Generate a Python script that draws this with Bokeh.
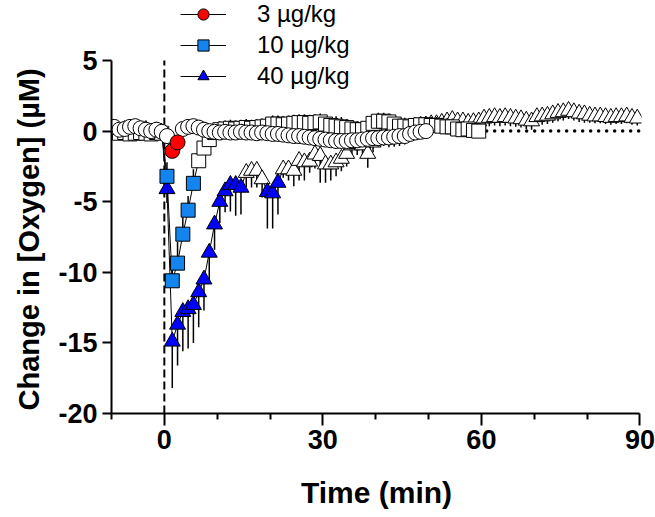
from bokeh.plotting import figure
from bokeh.models import Legend, LegendItem, FixedTicker, Range1d, Title
from bokeh.embed import file_html
from bokeh.resources import INLINE

# ---------------- data ----------------
TIME = [-9.5, -8.5, -7.5, -6.5, -5.5, -4.5, -3.5, -2.5, -1.5, -0.5,
        0.5, 1.5, 2.5, 3.5, 4.5, 5.5, 6.5, 7.5, 8.5, 9.5,
        10.5, 11.5, 12.5, 13.5, 14.5, 15.5, 16.5, 17.5, 18.5, 19.5,
        20.5, 21.5, 22.5, 23.5, 24.5, 25.5, 26.5, 27.5, 28.5, 29.5,
        30.5, 31.5, 32.5, 33.5, 34.5, 35.5, 36.5, 37.5, 38.5, 39.5,
        40.5, 41.5, 42.5, 43.5, 44.5, 45.5, 46.5, 47.5, 48.5, 49.5,
        50.5, 51.5, 52.5, 53.5, 54.5, 55.5, 56.5, 57.5, 58.5, 59.5,
        60.5, 61.5, 62.5, 63.5, 64.5, 65.5, 66.5, 67.5, 68.5, 69.5,
        70.5, 71.5, 72.5, 73.5, 74.5, 75.5, 76.5, 77.5, 78.5, 79.5,
        80.5, 81.5, 82.5, 83.5, 84.5, 85.5, 86.5, 87.5, 88.5, 89.5]

# 3 ug/kg (circles), t = -9.5 .. 49.5
DOSE3_MEAN = [0.3, 0.1, 0.15, 0.3, 0.35, 0.2, 0.1, 0.0, 0.1, -0.05,
              -0.35, -1.4, -0.8, 0.15, 0.3, 0.35, 0.25, 0.1, 0.0, -0.05,
              -0.1, -0.05, -0.1, -0.1, -0.05, -0.1, -0.1, -0.15, -0.1, -0.15,
              -0.2, -0.2, -0.25, -0.3, -0.35, -0.35, -0.4, -0.45, -0.5, -0.55,
              -0.6, -0.65, -0.7, -0.7, -0.7, -0.65, -0.65, -0.6, -0.55, -0.5,
              -0.5, -0.45, -0.45, -0.4, -0.35, -0.35, -0.2, -0.1, -0.05, 0.0]
DOSE3_SEM = [0.3, 0.3, 0.3, 0.3, 0.3, 0.3, 0.3, 0.3, 0.3, 0.3,
             0.3, 0.4, 0.4, 0.3, 0.3, 0.3, 0.3, 0.3, 0.3, 0.3,
             0.3, 0.3, 0.3, 0.3, 0.3, 0.3, 0.3, 0.3, 0.3, 0.3,
             0.3, 0.3, 0.4, 0.4, 0.4, 0.4, 0.4, 0.4, 0.4, 0.4,
             0.5, 0.5, 0.5, 0.5, 0.5, 0.5, 0.5, 0.5, 0.5, 0.5,
             0.6, 0.6, 0.7, 0.7, 0.7, 0.6, 0.5, 0.4, 0.3, 0.3]
DOSE3_SIG = [11, 12]

# 10 ug/kg (squares), t = -9.5 .. 59.5
DOSE10_MEAN = [-0.1, -0.15, -0.1, -0.2, -0.15, -0.1, -0.15, -0.2, -0.1, -0.15,
               -3.2, -10.6, -9.35, -7.3, -5.6, -3.7, -2.1, -1.2, -0.6, -0.1,
               0.1, 0.15, 0.2, 0.15, 0.2, 0.25, 0.2, 0.25, 0.3, 0.35,
               0.5, 0.5, 0.45, 0.5, 0.55, 0.6, 0.6, 0.55, 0.6, 0.65,
               0.5, 0.4, 0.35, 0.3, 0.25, 0.15, 0.1, 0.1, 0.2, 0.55,
               0.7, 0.7, 0.65, 0.5, 0.35, 0.35, 0.3, 0.4, 0.45, 0.45,
               0.4, 0.4, 0.35, 0.3, 0.3, 0.15, 0.1, 0.15, 0.05, 0.0]
DOSE10_SEM = [0.3, 0.3, 0.3, 0.3, 0.3, 0.3, 0.3, 0.3, 0.3, 0.3,
              1.0, 1.5, 1.5, 1.2, 1.0, 1.0, 0.8, 0.6, 0.5, 0.5,
              0.6, 0.6, 0.6, 0.6, 0.6, 0.6, 0.6, 0.6, 0.6, 0.6,
              0.6, 0.6, 0.6, 0.6, 0.6, 0.6, 0.6, 0.6, 0.6, 0.6,
              0.6, 0.6, 0.7, 0.7, 0.6, 0.6, 0.6, 0.6, 0.6, 0.6,
              0.6, 0.6, 0.6, 0.6, 0.6, 0.6, 0.6, 0.6, 0.6, 0.6,
              0.6, 0.6, 0.6, 0.6, 0.6, 0.5, 0.5, 0.5, 0.5, 0.5]
DOSE10_SIG = [10, 11, 12, 13, 14, 15]

# 40 ug/kg (triangles), t = -9.5 .. 89.5
DOSE40_MEAN = [0.0, -0.1, 0.1, 0.0, -0.1, 0.0, 0.1, -0.1, 0.0, -0.1,
               -4.1, -14.9, -13.7, -12.8, -12.6, -12.3, -11.4, -10.5, -8.6, -6.6,
               -5.0, -4.25, -3.8, -3.8, -4.0, -2.95, -2.8, -2.8, -3.4, -4.3,
               -4.4, -3.65, -2.7, -2.7, -2.8, -2.1, -2.2, -2.15, -1.65, -1.75,
               -2.35, -2.35, -2.2, -1.95, -1.6, -1.0, -0.9, -1.0, -1.6, -0.8,
               -0.4, -0.3, -0.2, -0.1, 0.0, 0.1, 0.2, 0.2, 0.3, 0.4,
               0.5, 0.5, 0.6, 0.7, 0.8, 0.7, 0.7, 0.6, 0.65, 0.7,
               0.9, 0.95, 1.0, 0.95, 1.0, 0.95, 0.9, 0.85, 0.75, 0.7,
               1.0, 1.05, 1.1, 1.2, 1.3, 1.35, 1.45, 1.35, 1.25, 1.2,
               1.1, 1.05, 1.05, 1.0, 0.95, 1.0, 1.0, 1.05, 0.95, 0.9]
DOSE40_SEM = [0.3, 0.3, 0.3, 0.3, 0.3, 0.3, 0.3, 0.3, 0.3, 0.3,
              1.0, 3.3, 2.9, 2.8, 2.8, 2.7, 2.5, 2.2, 2.0, 1.8,
              1.5, 1.5, 1.9, 2.2, 1.9, 1.0, 1.2, 1.2, 1.3, 2.6,
              2.5, 2.25, 0.6, 0.8, 1.1, 1.4, 1.3, 0.8, 1.0, 1.9,
              1.3, 1.15, 1.0, 0.9, 0.9, 0.8, 0.8, 0.8, 1.0, 0.7,
              0.6, 0.6, 0.6, 0.6, 0.6, 0.6, 0.6, 0.6, 0.6, 0.6,
              0.6, 0.6, 0.6, 0.6, 0.6, 0.6, 0.6, 0.6, 0.6, 0.6,
              0.6, 0.6, 0.6, 0.6, 0.6, 0.6, 0.6, 0.6, 0.6, 0.6,
              0.6, 0.6, 0.6, 0.6, 0.6, 0.6, 0.6, 0.6, 0.6, 0.6,
              0.5, 0.5, 0.5, 0.5, 0.5, 0.5, 0.5, 0.5, 0.5, 0.5]
DOSE40_SIG = [10, 11, 12, 13, 14, 15, 16, 17, 18, 19, 20, 21, 22, 23, 24, 29, 30, 31]

LABELS = ["3 \u00b5g/kg", "10 \u00b5g/kg", "40 \u00b5g/kg"]

X_TICKS = [0, 30, 60, 90]
X_MINOR = [-10, 10, 20, 40, 50, 70, 80]
Y_TICKS = [-20, -15, -10, -5, 0, 5]
Y_TICK_LABELS = ["-20", "-15", "-10", "-5", "0", "5"]
X_MIN, X_MAX = -10, 90
Y_MIN, Y_MAX = -20, 5
INJECTION_TIME = 0
BASELINE_X = [61, 90]
BASELINE_Y = [0, 0]

FONT = "Liberation Sans"

# ---------------- figure ----------------
# the frame reaches the top of the canvas so that the legend (which overlaps
# the top of the axis) is not clipped; the axes themselves stop at 5.
p = figure(width=655, height=513,
           x_range=Range1d(X_MIN, 90.3), y_range=Range1d(Y_MIN, 9.25),
           output_backend="svg", toolbar_location=None,
           min_border_left=109, min_border_right=14,
           min_border_top=0, min_border_bottom=100)
p.title = None
p.xgrid.visible = False
p.ygrid.visible = False
p.outline_line_color = None
p.background_fill_color = "white"
p.border_fill_color = "white"

# injection marker and baseline
p.segment(x0=[INJECTION_TIME], x1=[INJECTION_TIME], y0=[Y_MIN], y1=[Y_MAX],
          line_color="black", line_width=2, line_dash="8 4")
p.line(BASELINE_X, BASELINE_Y, line_color="black", line_width=3.5,
       line_dash="0 8", line_cap="round")


def add_series(mean, sem, sig, marker, size, color, direction):
    n = len(mean)
    t = TIME[:n]
    end = [m - s if direction < 0 else m + s for m, s in zip(mean, sem)]
    line_r = p.line(t, mean, line_color="black", line_width=1)
    p.segment(x0=t, x1=t, y0=mean, y1=end, line_color="black", line_width=1.5)
    ns = [i for i in range(n) if i not in sig]
    p.scatter([t[i] for i in ns], [mean[i] for i in ns], marker=marker, size=size,
              fill_color="white", line_color="black", line_width=1)
    sig_r = p.scatter([t[i] for i in sig], [mean[i] for i in sig], marker=marker,
                      size=size, fill_color=color, line_color="black", line_width=1)
    return line_r, sig_r


r40 = add_series(DOSE40_MEAN, DOSE40_SEM, DOSE40_SIG, "triangle", 16, "#0000FF", -1)
r10 = add_series(DOSE10_MEAN, DOSE10_SEM, DOSE10_SIG, "square", 14, "#1485EE", 1)
r3 = add_series(DOSE3_MEAN, DOSE3_SEM, DOSE3_SIG, "circle", 15, "#FF0000", -1)

legend = Legend(items=[LegendItem(label=LABELS[0], renderers=list(r3)),
                       LegendItem(label=LABELS[1], renderers=list(r10)),
                       LegendItem(label=LABELS[2], renderers=list(r40))],
                location=(69, 323), padding=0, margin=0, spacing=3,
                glyph_width=46, glyph_height=28, label_height=20,
                label_standoff=31, border_line_color=None,
                background_fill_alpha=0,
                label_text_font=FONT, label_text_font_size="24px",
                label_text_color="black")
p.add_layout(legend)

# axes
for ax in (p.xaxis[0], p.yaxis[0]):
    ax.axis_line_width = 2
    ax.major_tick_line_width = 2
    ax.minor_tick_line_width = 2
    ax.major_tick_in = 0
    ax.minor_tick_in = 0
    ax.major_label_text_font = FONT
    ax.major_label_text_font_style = "bold"
    ax.major_label_text_font_size = "27px"
    ax.major_label_text_color = "black"
    ax.axis_label_text_font = FONT
    ax.axis_label_text_font_style = "bold"
    ax.axis_label_text_color = "black"

p.xaxis.ticker = FixedTicker(ticks=X_TICKS, minor_ticks=X_MINOR)
p.xaxis.bounds = (X_MIN, X_MAX)
p.xaxis.major_tick_out = 12
p.xaxis.minor_tick_out = 6
p.xaxis.major_label_standoff = 4
p.xaxis.axis_label = "Time (min)"
p.xaxis.axis_label_text_font_size = "30px"
p.xaxis.axis_label_standoff = 24

p.yaxis.ticker = FixedTicker(ticks=Y_TICKS)
p.yaxis.major_label_overrides = dict(zip(Y_TICKS, Y_TICK_LABELS))
p.yaxis.bounds = (Y_MIN, Y_MAX)
p.yaxis.major_tick_out = 9
p.yaxis.minor_tick_line_color = None
p.yaxis.major_label_standoff = 5

# y-axis title, starting at the bottom of the axis and running upwards
y_title = Title(text="Change in [Oxygen]  (\u00b5M)", align="left", offset=3,
                standoff=21, text_font=FONT, text_font_style="bold",
                text_font_size="29px", text_color="black")
p.add_layout(y_title, "left")

open("out.html", "w").write(file_html(p, INLINE))
